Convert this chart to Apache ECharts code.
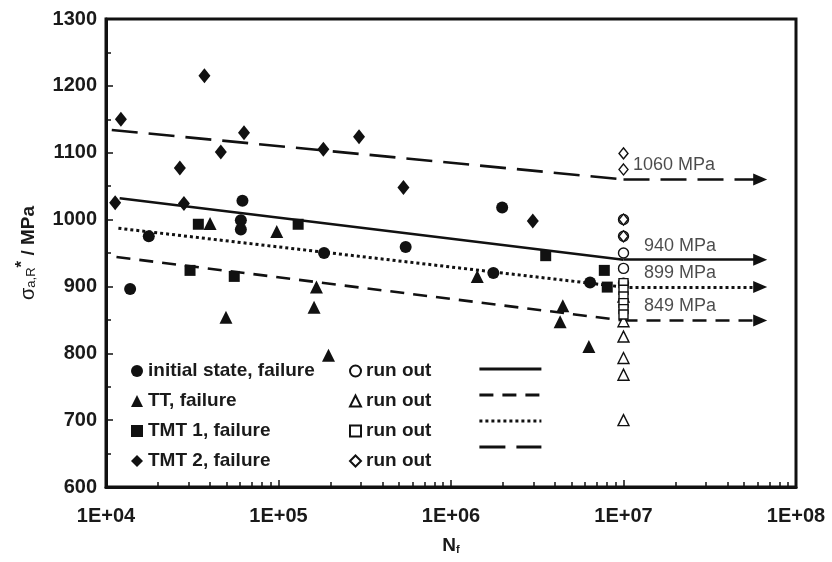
<!DOCTYPE html>
<html>
<head>
<meta charset="utf-8">
<script src="https://cdn.jsdelivr.net/npm/echarts@6/dist/echarts.min.js"></script>
<style>
  html, body { margin: 0; padding: 0; background: #fff; }
  #chart { width: 832px; height: 562px; }
</style>
</head>
<body>
<div id="chart"></div>
<script>
// Stress amplitude sigma_a,R* versus cycles to failure N_f for four material states.

// Failures: [cycles, stress in MPa]
const initialFailure = [[13800, 896], [17700, 975], [61800, 1028], [60500, 999], [60500, 985],
  [183700, 950], [546000, 959], [1.76e6, 920], [1.98e6, 1018], [6.4e6, 906]];
const ttFailure = [[40100, 994], [49600, 854], [97700, 982], [166000, 899], [160700, 869],
  [195000, 797], [1.42e6, 915], [4.45e6, 871], [4.29e6, 847], [6.3e6, 810]];
const tmt1Failure = [[34300, 993], [130000, 993], [30700, 924], [55400, 915],
  [3.54e6, 946], [7.74e6, 924], [8.05e6, 899]];
const tmt2Failure = [[12200, 1150], [37200, 1215], [46300, 1101], [26800, 1077], [63100, 1130],
  [182000, 1105], [293000, 1124], [11300, 1025], [28300, 1024], [530000, 1048], [2.98e6, 998]];

// Run-outs, all stopped at the same cycle limit (stress in MPa)
const runOutCycles = 1e7;
const initialRunOut = [1000, 975, 950, 927, 905];
const ttRunOut = [885, 848, 825, 793, 768, 700];
const tmt1RunOut = [905, 895, 885, 875, 866, 858];
const tmt2RunOut = [1099, 1075, 1000, 975];

// Fitted S-N lines [cycles, MPa]; the last point is the fatigue strength at the cycle limit
const fitInitial = [[12000, 1032], [1e7, 940]];
const fitTT = [[11500, 944], [1e7, 849]];
const fitTMT1 = [[11800, 987], [1e7, 899]];
const fitTMT2 = [[10800, 1134], [1e7, 1060]];
const arrowEndCycles = 6.2e7;

// Axis ticks
const xDecades = [1e4, 1e5, 1e6, 1e7, 1e8];
const xMinorTicks = [];
for (let d = 1e4; d < 1e8; d *= 10) {
  for (let k = 2; k <= 9; k++) xMinorTicks.push(d * k);
}
const yMin = 600, yMax = 1300, yStep = 100;

const ink = '#111';
const font = 'Arial, "Liberation Sans", sans-serif';

const groups = [
  { key: 'initial state', fail: initialFailure, run: initialRunOut, fit: fitInitial,
    symbol: 'circle', size: 12, runSize: 10, dash: 'solid', labelShift: 20 },
  { key: 'TT', fail: ttFailure, run: ttRunOut, fit: fitTT,
    symbol: 'triangle', size: 13, runSize: 11, dash: [14, 9], labelShift: 20 },
  { key: 'TMT 1', fail: tmt1Failure, run: tmt1RunOut, fit: fitTMT1,
    symbol: 'rect', size: 11, runSize: 9, dash: [3, 3], labelShift: 20 },
  { key: 'TMT 2', fail: tmt2Failure, run: tmt2RunOut, fit: fitTMT2,
    symbol: 'diamond', size: [12, 15], runSize: [9, 11], dash: [26, 11], labelShift: 9 }
];

const series = [];
groups.forEach(g => {
  const limit = g.fit[g.fit.length - 1][1];
  const line = { color: ink, width: g.symbol === 'rect' ? 3 : 2.6, type: g.dash, cap: 'butt' };
  series.push({
    type: 'scatter', name: g.key + ', failure', xAxisIndex: 0,
    symbol: g.symbol, symbolSize: g.size, data: g.fail,
    itemStyle: { color: ink, opacity: 1 }, z: 4
  });
  series.push({
    type: 'scatter', name: g.key + ', run out', xAxisIndex: 0,
    symbol: g.symbol, symbolSize: g.runSize,
    data: g.run.map(v => [runOutCycles, v]),
    itemStyle: { color: '#fff', borderColor: ink, borderWidth: 1.4, opacity: 1 }, z: 5
  });
  series.push({
    type: 'line', name: g.key + ', fit', xAxisIndex: 0,
    data: g.fit, symbol: 'none', showSymbol: false,
    itemStyle: { color: ink },
    lineStyle: line, z: 3,
    markLine: {
      silent: true, animation: false,
      symbol: ['none', 'triangle'], symbolSize: [12, 14],
      label: { show: false },
      lineStyle: line,
      data: [[{ coord: [runOutCycles, limit] }, { coord: [arrowEndCycles, limit] }]]
    }
  });
  series.push({
    type: 'scatter', name: g.key + ' limit', xAxisIndex: 0,
    symbolSize: 1, itemStyle: { color: 'rgba(0,0,0,0)' },
    data: [[runOutCycles, limit]], z: 6, silent: true,
    label: {
      show: true, position: 'right', distance: 0, offset: [g.labelShift, -14],
      formatter: () => limit + ' MPa',
      fontFamily: font, fontSize: 18, color: '#1e1e1e'
    }
  });
});

const legendText = { fontFamily: font, fontSize: 19, fontWeight: 'bold', color: '#1a1a1a', lineHeight: 20 };

const option = {
  animation: false,
  backgroundColor: '#fff',
  grid: { left: 106, right: 36, top: 19, bottom: 75, show: true, borderColor: ink, borderWidth: 3 },
  xAxis: [
    {
      type: 'log', logBase: 10, min: xDecades[0], max: xDecades[xDecades.length - 1],
      position: 'bottom',
      name: '{n|N}{s|f}', nameLocation: 'middle', nameGap: 46,
      nameTextStyle: {
        rich: {
          n: { fontFamily: font, fontSize: 19, fontWeight: 'bold', color: '#1a1a1a', verticalAlign: 'bottom', lineHeight: 22 },
          s: { fontFamily: font, fontSize: 11, fontWeight: 'bold', color: '#1a1a1a', verticalAlign: 'bottom', lineHeight: 16 }
        }
      },
      axisLine: { show: true, lineStyle: { color: ink, width: 3 } },
      axisTick: { show: true, inside: true, length: 7, lineStyle: { color: ink, width: 1.5 }, customValues: xDecades },
      axisLabel: {
        customValues: xDecades, margin: 19,
        formatter: v => '1E+' + String(Math.round(Math.log10(v))).padStart(2, '0'),
        fontFamily: font, fontSize: 20, fontWeight: 'bold', color: '#1a1a1a'
      },
      splitLine: { show: false }
    },
    {
      type: 'log', logBase: 10, min: xDecades[0], max: xDecades[xDecades.length - 1],
      position: 'bottom',
      axisLine: { show: false },
      axisTick: { show: true, inside: true, length: 5, lineStyle: { color: ink, width: 1.5 }, customValues: xMinorTicks },
      axisLabel: { show: false },
      splitLine: { show: false }
    }
  ],
  yAxis: {
    type: 'value', min: yMin, max: yMax, interval: yStep,
    name: '{g|σ}{sub|a,R}{sup|*}{b| / MPa}', nameLocation: 'middle', nameGap: 68, nameRotate: 90,
    nameTextStyle: {
      rich: {
        g: { fontFamily: font, fontSize: 20, color: '#1a1a1a', verticalAlign: 'bottom', lineHeight: 24 },
        sub: { fontFamily: font, fontSize: 13, color: '#1a1a1a', verticalAlign: 'bottom', lineHeight: 16 },
        sup: { fontFamily: font, fontSize: 17, fontWeight: 'bold', color: '#1a1a1a', verticalAlign: 'top', lineHeight: 18 },
        b: { fontFamily: font, fontSize: 19, fontWeight: 'bold', color: '#1a1a1a', verticalAlign: 'bottom', lineHeight: 24 }
      }
    },
    axisLine: { show: true, lineStyle: { color: ink, width: 3 } },
    axisTick: { show: true, inside: true, length: 7, lineStyle: { color: ink, width: 1.5 } },
    minorTick: { show: true, splitNumber: 2, length: 5, lineStyle: { color: ink, width: 1.5 } },
    axisLabel: { margin: 9, formatter: v => String(v), fontFamily: font, fontSize: 20, fontWeight: 'bold', color: '#1a1a1a' },
    splitLine: { show: false }
  },
  legend: [
    {
      orient: 'vertical', left: 126, top: 356, itemWidth: 12, itemHeight: 12, itemGap: 10,
      selectedMode: false, textStyle: legendText,
      data: groups.map(g => g.key + ', failure')
    },
    {
      orient: 'vertical', left: 344, top: 356, itemWidth: 11, itemHeight: 11, itemGap: 10,
      selectedMode: false, textStyle: legendText, formatter: () => 'run out',
      data: groups.map(g => g.key + ', run out')
    },
    {
      orient: 'vertical', left: 473, top: 356, itemWidth: 62, itemHeight: 20, itemGap: 10,
      selectedMode: false, textStyle: legendText, formatter: () => '',
      itemStyle: { opacity: 0 },
      lineStyle: { width: 2.8, color: ink },
      data: groups.map(g => g.key + ', fit')
    }
  ],
  series: series
};

const chart = echarts.init(document.getElementById('chart'), null, { renderer: 'canvas' });
chart.setOption(option);
</script>
</body>
</html>
